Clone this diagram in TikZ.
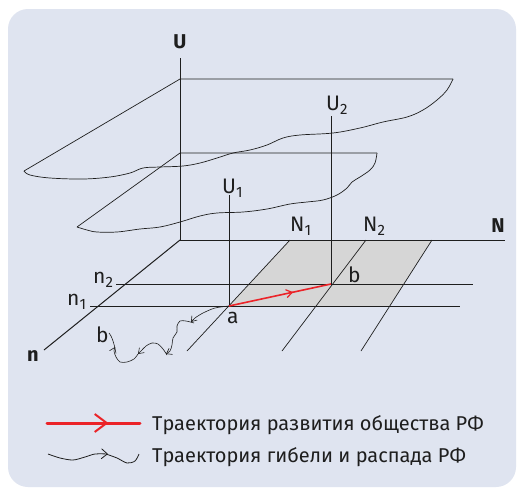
\documentclass[tikz,border=0pt]{standalone}
\usepackage{fontspec}
\setmainfont{Fira Sans}
\usetikzlibrary{arrows.meta,decorations.markings}
\definecolor{panel}{RGB}{223,228,240}
\definecolor{greyfill}{RGB}{214,214,214}
\definecolor{ink}{RGB}{30,30,30}
\definecolor{trajred}{RGB}{235,35,40}
\newcommand{\sbs}[1]{\raisebox{-0.4ex}{\fontsize{15}{17}\selectfont #1}}
\tikzset{
  thinline/.style={draw=ink, line width=0.7pt},
  axisline/.style={draw=ink, line width=1pt},
  lbl/.style={text=ink, inner sep=0pt, font=\fontsize{21}{23}\selectfont},
  axlbl/.style={text=ink, inner sep=0pt, font=\fontsize{20}{22}\selectfont\bfseries},
  legtxt/.style={text=ink, inner sep=0pt, anchor=base west, font=\fontsize{20}{22}\selectfont},
  barb/.style={-{Straight Barb[length=5pt,width=7pt]}},
  redtraj/.style={draw=trajred, line width=1.6pt,
    postaction={decorate},
    decoration={markings, mark=at position 0.63 with {\arrow[trajred, line width=1.2pt]{Straight Barb[length=6pt,width=8pt]}}}},
}
\begin{document}
\begin{tikzpicture}[x=1pt,y=-1pt]
\useasboundingbox (0,0) rectangle (517,488);
\fill[white] (0,0) rectangle (517,488);
\fill[panel, rounded corners=20pt] (8,9) rectangle (516,487);

% coordinates
\coordinate (O) at (180,240);
\coordinate (Utop) at (180,58);
\coordinate (Nend) at (505,240);
\coordinate (nend) at (44,350);
\coordinate (a) at (229,306);
\coordinate (b) at (331,284);

% shaded area
\fill[greyfill] (290,240) -- (432,240) -- (389.4,306) -- (228.8,306) -- cycle;

% grid
\draw[thinline] (290,240) -- (187,351);
\draw[thinline] (366,240) -- (282,351);
\draw[thinline] (432,240) -- (361,351);
\draw[thinline] (116,284) -- (473,284);
\draw[thinline] (90,306) -- (460,306);

% axes
\draw[axisline] (O) -- (Utop);
\draw[axisline] (O) -- (Nend);
\draw[axisline] (O) -- (nend);

% upper plane U2
\draw[thinline] (24,171) -- (180,79) -- (453,79);
\draw[thinline] plot[smooth, tension=0.6] coordinates {
 (453,79) (447,90) (437,100) (423,110) (407,117) (383,122) (360,128) (333,133)
 (300,135) (283,138) (267,145) (250,150) (233,153) (217,158) (200,163) (183,166)
 (160,167) (143,168) (130,173) (110,177) (83,179) (50,178) (30,175) (24,171)};

% lower plane U1
\draw[thinline] (77,227) -- (180,153) -- (377,153);
\draw[thinline] plot[smooth, tension=0.6] coordinates {
 (377,153) (375,163) (370,170) (360,177) (352,182) (347,188) (337,195) (323,200)
 (307,202) (290,204) (267,209) (243,212) (217,213) (200,216) (180,222) (160,227)
 (140,229) (117,232) (97,232) (87,230) (77,227)};

% verticals
\draw[thinline] (229,195) -- (a);
\draw[thinline] (331,116) -- (b);

% red trajectory
\draw[redtraj] (a) -- (b);

% death trajectory
\draw[thinline, line width=0.6pt, barb] plot[smooth] coordinates {(a) (215,308) (203,313) (195,318) (191,322)};
\draw[thinline, line width=0.6pt, barb] plot[smooth] coordinates {(194,323) (186,321) (180,321) (177,326) (177,332) (173,338) (172,345) (170,351) (166,354)};
\draw[thinline, line width=0.6pt, barb] plot[smooth] coordinates {(167,355) (163,349) (158,344) (152,343) (146,346) (141,351) (138,354)};
\draw[thinline, line width=0.6pt, barb] plot[smooth] coordinates {(138,354) (134,359) (127,362) (120,362) (116,357) (114,351) (115,347)};
\draw[thinline, line width=0.6pt] plot[smooth] coordinates {(115,348) (113,341) (111,336) (109,333)};

% labels
\node[axlbl] (lU) at (180,42) {U};
\node[axlbl] (lN) at (498,226) {N};
\node[axlbl] (ln) at (33,356) {n};
\node[lbl, anchor=base west] (lU1) at (222,193) {U\sbs{1}};
\node[lbl, anchor=base west] (lU2) at (326,110) {U\sbs{2}};
\node[lbl, anchor=base west] (lN1) at (290,231) {N\sbs{1}};
\node[lbl, anchor=base west] (lN2) at (363,231) {N\sbs{2}};
\node[lbl, anchor=base west] (ln2) at (93,283) {n\sbs{2}};
\node[lbl, anchor=base west] (ln1) at (67,305) {n\sbs{1}};
\node[lbl, anchor=base west] (la) at (227,323) {a};
\node[lbl, anchor=base west] (lb) at (348,282) {b};
\node[lbl, anchor=base west] (lb2) at (96,342) {b};

% legend
\coordinate (r1) at (47,423);
\coordinate (r2) at (140,423);
\draw[draw=trajred, line width=3pt, line cap=round, postaction={decorate},
  decoration={markings, mark=at position 0.66 with {\arrow[trajred, line width=2pt]{Straight Barb[length=12pt,width=18pt]}}}] (r1) -- (r2);
\draw[thinline, line width=0.8pt, -{Straight Barb[length=6pt,width=10pt]}] plot[smooth] coordinates {(48,454) (60,458) (73,460) (85,457) (95,454) (108,454)};
\draw[thinline, line width=0.8pt] plot[smooth] coordinates {(106,454) (117,458) (127,463) (135,461) (139,454)};
\node[legtxt] (t1) at (152,430) {Траектория развития общества РФ};
\node[legtxt] (t2) at (152,462) {Траектория гибели и распада РФ};
\end{tikzpicture}
\end{document}
